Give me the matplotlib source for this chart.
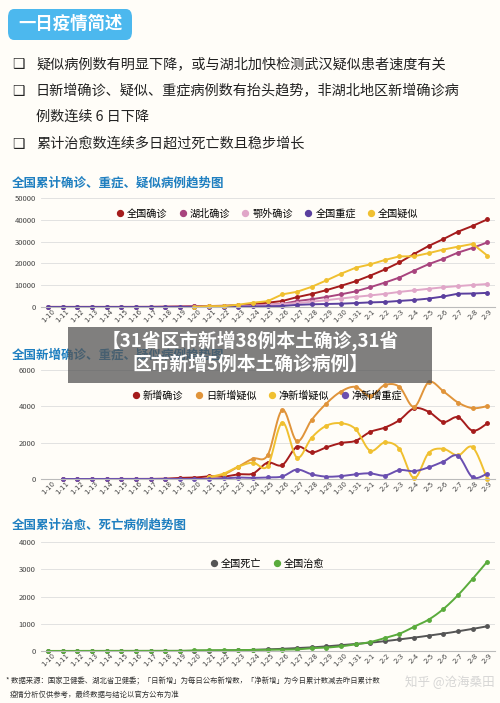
import numpy as np
import matplotlib
matplotlib.use("Agg")
import matplotlib.pyplot as plt
from matplotlib.patches import FancyBboxPatch, Rectangle

plt.rcParams['font.family'] = ['Noto Sans CJK SC', 'DejaVu Sans']

# dates 1-10 .. 2-9
dates = [f"1-{d}" for d in range(10, 32)] + [f"2-{d}" for d in range(1, 10)]
nan = np.nan

# chart 1: cumulative
total_conf = [41, 41, 41, 41, 41, 41, 45, 62, 121, 198, 291, 440, 571, 830, 1287, 1975, 2744, 4515, 5974, 7711,
              9692, 11791, 14380, 17205, 20438, 24324, 28018, 31161, 34546, 37198, 40171]
hubei_conf = [41, 41, 41, 41, 41, 41, 45, 62, 121, 198, 270, 375, 444, 549, 729, 1052, 1423, 2714, 3554, 4586,
              5806, 7153, 9074, 11177, 13522, 16678, 19665, 22112, 24953, 27100, 29631]
outside_conf = [0, 0, 0, 0, 0, 0, 0, 0, 0, 0, 21, 65, 127, 281, 558, 923, 1321, 1801, 2420, 3125,
                3886, 4638, 5306, 6028, 6916, 7646, 8353, 9049, 9593, 10098, 10540]
total_severe = [0, 0, 0, 0, 0, 0, 0, 0, 0, 0, 0, 0, 95, 177, 237, 324, 461, 976, 1239, 1370,
                1527, 1795, 2110, 2296, 2788, 3219, 3859, 4821, 6101, 6188, 6484]
total_susp = [nan] * 10 + [54, 393, 393, 1072, 1965, 2684, 5794, 6973, 9239, 12167,
                           15238, 17988, 19544, 21558, 23214, 23260, 24702, 26359, 27657, 28942, 23589]

# chart 2: daily
new_conf = [nan, 0, 0, 0, 0, 0, 0, 4, 17, 59, 77, 149, 131, 259, 300, 900, 770, 1770, 1460, 1740,
            1980, 2100, 2590, 2830, 3240, 3890, 3700, 3140, 3400, 2660, 3060]
new_susp = [nan] * 11 + [100, 250, 680, 1120, 1310, 3800, 2080, 3250, 4150,
                         4810, 5070, 4560, 5170, 5070, 3970, 5330, 4830, 4210, 3900, 4010]
net_susp = [nan] * 11 + [100, 300, 680, 900, 720, 3110, 1180, 2270, 2930,
                         3070, 2750, 1560, 2010, 1660, 50, 1440, 1660, 1300, 1750, 0]
net_severe = [nan, 0, 0, 0, 0, 0, 0, 0, 0, 0, 0, 0, 30, 80, 60, 90, 140, 520, 260, 130,
              160, 260, 310, 190, 490, 430, 640, 960, 1280, 90, 300]

# chart 3: cured / deaths
deaths = [1, 1, 1, 1, 1, 1, 2, 2, 2, 3, 6, 9, 17, 25, 41, 56, 80, 106, 132, 170,
          213, 259, 304, 361, 425, 490, 563, 636, 722, 811, 908]
cured = [2, 2, 2, 2, 2, 2, 2, 2, 2, 2, 25, 25, 28, 34, 38, 49, 51, 60, 103, 124,
         171, 243, 328, 475, 632, 892, 1153, 1540, 2050, 2649, 3281]

W, H = 500, 703
fig = plt.figure(figsize=(W / 100, H / 100), dpi=100)
fig.patch.set_facecolor("#fffdf8")


def fy(py):
    return 1 - py / H


def smooth(x, y, n=12):
    # Catmull-Rom curve through the data points (drawing only)
    x = np.asarray(x, float); y = np.asarray(y, float)
    ok = ~np.isnan(y)
    x, y = x[ok], y[ok]
    px = np.concatenate([[x[0]], x, [x[-1]]]); py = np.concatenate([[y[0]], y, [y[-1]]])
    xs, ys = [], []
    t = np.linspace(0, 1, n, endpoint=False)
    for i in range(1, len(px) - 2):
        for arr, p in ((xs, px), (ys, py)):
            p0, p1, p2, p3 = p[i - 1], p[i], p[i + 1], p[i + 2]
            arr.extend(0.5 * ((2 * p1) + (-p0 + p2) * t + (2 * p0 - 5 * p1 + 4 * p2 - p3) * t ** 2
                              + (-p0 + 3 * p1 - 3 * p2 + p3) * t ** 3))
    xs.append(x[-1]); ys.append(y[-1])
    return xs, ys


# header
fig.patches.append(FancyBboxPatch((8 / W, fy(40)), 124 / W, 31 / H, boxstyle="round,pad=0,rounding_size=0.012",
                                  transform=fig.transFigure, facecolor="#4cb8ee", edgecolor="none"))
fig.text(18 / W, fy(24), "一日疫情简述", color="white", fontsize=12.5, fontweight="bold", va="center")
bullets = [(64, "疑似病例数有明显下降，或与湖北加快检测武汉疑似患者速度有关", True),
           (91, "日新增确诊、疑似、重症病例数有抬头趋势，非湖北地区新增确诊病", True),
           (117, "例数连续 6 日下降", False),
           (144, "累计治愈数连续多日超过死亡数且稳步增长", True)]
for y, s, box in bullets:
    if box:
        fig.text(12 / W, fy(y), "❑", fontsize=10, va="center", color="#222", family=["DejaVu Sans"])
    fig.text(36 / W, fy(y), s, fontsize=10.2, va="center", color="#222")

x = np.arange(len(dates))


def setup(ax, top, ymax, step, title, ty):
    ax.set_xlim(-0.5, 30.5)
    ax.set_ylim(0, top)
    ax.set_yticks(np.arange(0, top + 1, step))
    ax.tick_params(axis="y", labelsize=5.5, length=0, colors="#444")
    ax.set_xticks(x)
    ax.set_xticklabels(dates, rotation=45, fontsize=5, color="#444", family=["DejaVu Sans"])
    ax.tick_params(axis="x", length=0, pad=1)
    ax.grid(axis="y", color="#dddddd", linewidth=0.6)
    ax.set_axisbelow(True)
    for s in ax.spines.values():
        s.set_visible(False)
    ax.spines["bottom"].set_visible(True)
    ax.spines["bottom"].set_color("#bbbbbb")
    ax.set_facecolor("none")
    fig.text(12 / W, fy(ty), title, color="#1f7fc0", fontsize=9, fontweight="bold", va="center")


def add_axes(y0, y1):
    return fig.add_axes([40.7 / W, fy(y0), 453.9 / W, (y0 - y1) / H])


legend_kw = dict(frameon=False, fontsize=7.3, handlelength=0.6, handletextpad=0.4,
                 columnspacing=1.2, markerscale=1.7)

# chart 1
ax1 = add_axes(307, 198)
setup(ax1, 50000, 50000, 10000, "全国累计确诊、重症、疑似病例趋势图", 183)
series1 = [("全国确诊", total_conf, "#a51c1c"), ("湖北确诊", hubei_conf, "#a8447e"),
           ("鄂外确诊", outside_conf, "#e0a6c8"), ("全国重症", total_severe, "#5a3f9e"),
           ("全国疑似", total_susp, "#f0c030")]
for name, v, c in series1:
    ax1.plot(x, v, color=c, lw=1.4, marker="o", ms=2.5, label=name, clip_on=False)
ax1.legend(loc="upper center", bbox_to_anchor=(0.5, 0.99), ncol=5, **legend_kw)
for h in ax1.get_legend().get_lines():
    h.set_linestyle("none")

# chart 2
ax2 = add_axes(479, 370)
setup(ax2, 6000, 6000, 2000, "全国新增确诊、重症、疑似病例趋势图", 355)
series2 = [("新增确诊", new_conf, "#a51c1c"), ("日新增疑似", new_susp, "#e0943a"),
           ("净新增疑似", net_susp, "#f0c030"), ("净新增重症", net_severe, "#6a4fb0")]
for name, v, c in series2:
    sx, sy = smooth(x, v)
    ax2.plot(sx, sy, color=c, lw=1.4, clip_on=False)
    ax2.plot(x, v, color=c, lw=0, marker="o", ms=2.5, label=name, clip_on=False)
ax2.legend(loc="upper center", bbox_to_anchor=(0.5, 0.9), ncol=4, **legend_kw)

# chart 3
ax3 = add_axes(651, 542)
setup(ax3, 4000, 4000, 1000, "全国累计治愈、死亡病例趋势图", 525)
series3 = [("全国死亡", deaths, "#555555"), ("全国治愈", cured, "#5aab3c")]
for name, v, c in series3:
    sx, sy = smooth(x, v)
    ax3.plot(sx, sy, color=c, lw=1.4, clip_on=False)
    ax3.plot(x, v, color=c, lw=0, marker="o", ms=2.5, label=name, clip_on=False)
ax3.legend(loc="upper center", bbox_to_anchor=(0.5, 0.93), ncol=2, **legend_kw)

# footer
fig.text(6 / W, fy(681), "* 数据来源：国家卫健委、湖北省卫健委；「日新增」为每日公布新增数，「净新增」为今日累计数减去昨日累计数",
         fontsize=5.3, color="#333", va="center")
fig.text(10 / W, fy(695), "疫情分析仅供参考，最终数据与结论以官方公布为准", fontsize=5.3, color="#333", va="center")
fig.text(495 / W, fy(682), "知乎 @沧海桑田", fontsize=9, color="#cccccc", ha="right", va="center", alpha=0.8)

# overlay banner
fig.patches.append(Rectangle((68 / W, fy(383)), 364 / W, 56 / H, transform=fig.transFigure,
                             facecolor="#555555", alpha=0.75, edgecolor="none", zorder=10))
fig.text(250 / W, fy(341), "【31省区市新增38例本土确诊,31省", fontsize=13.5, color="white",
         fontweight="bold", ha="center", va="center", zorder=11)
fig.text(250 / W, fy(364), "区市新增5例本土确诊病例】", fontsize=13.5, color="white",
         fontweight="bold", ha="center", va="center", zorder=11)

fig.savefig("out.png", dpi=100, facecolor=fig.get_facecolor())
